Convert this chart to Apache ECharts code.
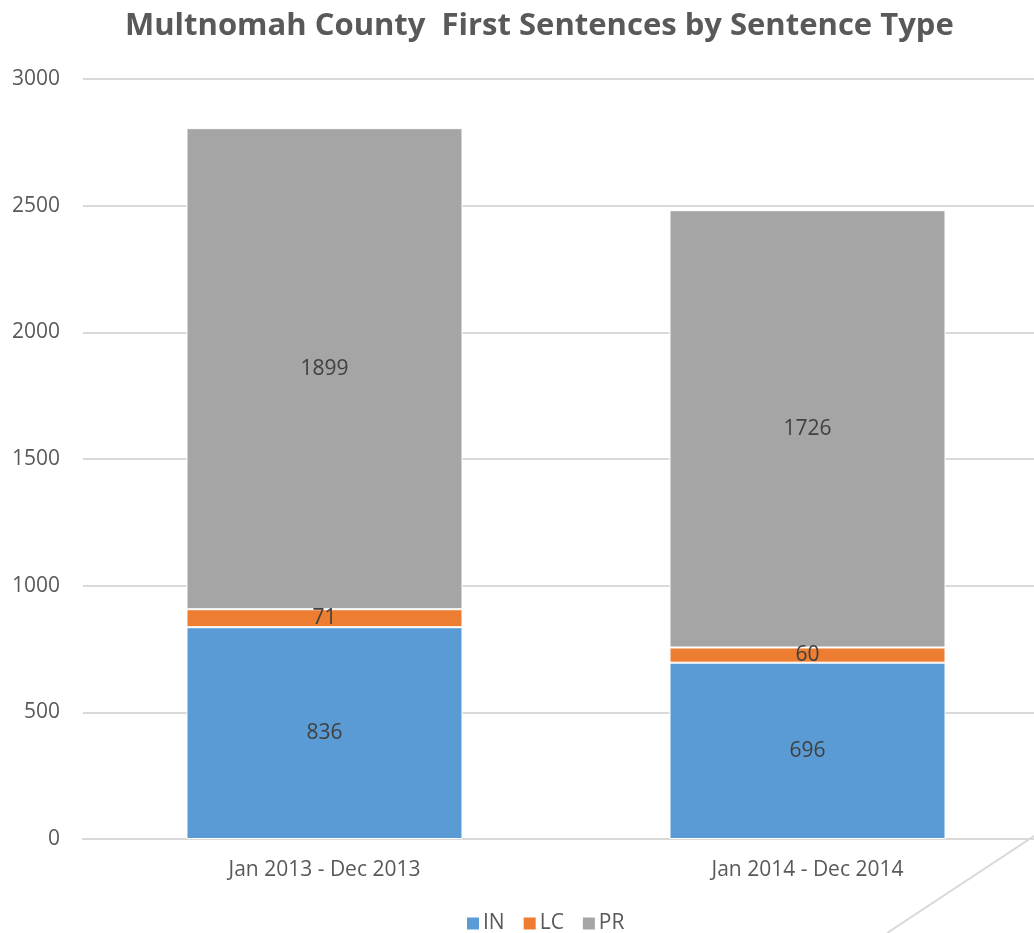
<!DOCTYPE html>
<html><head><meta charset="utf-8">
<script src="https://cdn.jsdelivr.net/npm/echarts@6/dist/echarts.min.js"></script>
<style>html,body{margin:0;padding:0;background:#fff}#c{width:1034px;height:933px}</style>
</head><body><div id="c"></div>
<script>
const categories = ['Jan 2013 - Dec 2013', 'Jan 2014 - Dec 2014'];
const inValues = [836, 696];
const lcValues = [71, 60];
const prValues = [1899, 1726];
const yTicks = [0, 500, 1000, 1500, 2000, 2500, 3000];

const chart = echarts.init(document.getElementById('c'));
const font = 'Open Sans';
const lbl = {show: true, position: 'inside', color: '#404040', fontSize: 21, fontFamily: font};
function mk(name, data, color) {
  return {name, type: 'bar', stack: 's', data, barWidth: 276,
    itemStyle: {color, borderColor: '#ffffff', borderWidth: 1}, label: lbl};
}
chart.setOption({
  animation: false,
  title: {text: 'Multnomah County  First Sentences by Sentence Type', left: 120, top: 6,
    textStyle: {fontFamily: font, fontWeight: 'bold', fontSize: 31, color: '#595959'}},
  grid: {left: 83, top: 79, width: 966, height: 760, containLabel: false, outerBoundsMode: 'none'},
  legend: {bottom: -6, left: 460, itemWidth: 14, itemHeight: 14, itemGap: 17,
    icon: 'rect', textStyle: {fontFamily: font, fontSize: 21, color: '#595959', padding: [0,0,0,-2]},
    data: ['IN', 'LC', 'PR']},
  xAxis: {type: 'category', data: categories,
    axisLine: {lineStyle: {color: '#d9d9d9', width: 2}}, axisTick: {show: false},
    axisLabel: {color: '#595959', fontSize: 21, fontFamily: font, margin: 21}},
  yAxis: {type: 'value', min: yTicks[0], max: yTicks[yTicks.length - 1], interval: 500,
    axisLine: {show: false}, axisTick: {show: false},
    splitLine: {lineStyle: {color: '#d9d9d9', width: 2}},
    axisLabel: {color: '#595959', fontSize: 21, fontFamily: font, margin: 23,
      formatter: v => String(v)}},
  series: [mk('IN', inValues, '#5b9bd5'), mk('LC', lcValues, '#ed7d31'), mk('PR', prValues, '#a5a5a5')],
  graphic: [{type: 'line', shape: {x1: 887, y1: 933, x2: 1034, y2: 836},
    style: {stroke: '#d9d9d9', lineWidth: 2}}]
});
</script></body></html>
